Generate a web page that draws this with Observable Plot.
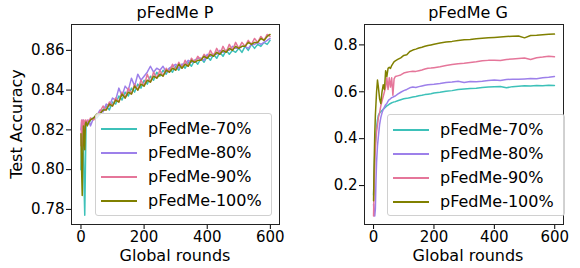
<!DOCTYPE html>
<html>
<head>
<meta charset="utf-8">
<script src="https://cdn.jsdelivr.net/npm/d3@7"></script>
<script src="https://cdn.jsdelivr.net/npm/@observablehq/plot@0.6"></script>
<style>
  body { margin: 0; background: #fff; font-family: "DejaVu Sans", sans-serif; }
  #wrap { position: relative; width: 580px; height: 268px; overflow: hidden; }
  .panel { position: absolute; top: 0; width: 290px; height: 268px; }
  .title { position: absolute; font-size: 16px; line-height: 18px; color: #000; white-space: nowrap; transform: translateX(-50%); }
  .xlabel { position: absolute; font-size: 16px; line-height: 16px; color: #000; white-space: nowrap; transform: translateX(-50%); }
  .ylabel { position: absolute; font-size: 16px; line-height: 16px; color: #000; white-space: nowrap; transform: translate(-50%, -50%) rotate(-90deg); }
  .legend { position: absolute; border: 1px solid #d0d0d0; border-radius: 3px; background: rgba(255,255,255,0.8); box-sizing: border-box; }
  .entry { position: absolute; left: 0; height: 0; }
  .entry svg { position: absolute; left: 5px; top: -2px; }
  .entry span { position: absolute; left: 52px; top: -10px; font-size: 16px; line-height: 20px; white-space: nowrap; color: #000; }
</style>
</head>
<body>
<div id="wrap"></div>
<script>
// ---------- data ----------
const seriesNames = ["pFedMe-70%", "pFedMe-80%", "pFedMe-90%", "pFedMe-100%"];
const seriesColors = ["#3dc1b9", "#9d80ea", "#e5769a", "#808000"];

const roundsP = [0,2,4,6,8,10,12,14,16,20,25,30,40,50,
  60,70,80,90,100,110,120,130,140,150,160,170,180,190,200,210,220,230,240,250,260,270,280,290,
  300,310,320,330,340,350,360,370,380,390,400,410,420,430,440,450,460,470,480,490,500,510,520,
  530,540,550,560,570,580,590,599];

const p70 = [0.800,0.815,0.822,0.818,0.812,0.790,0.777,0.800,0.822,0.824,0.823,0.825,0.826,0.826,
  0.828,0.830,0.832,0.830,0.834,0.833,0.837,0.835,0.839,0.837,0.841,0.839,0.843,0.841,0.845,0.843,
  0.847,0.845,0.849,0.847,0.850,0.848,0.851,0.849,0.852,0.850,0.853,0.851,0.854,0.852,0.855,0.853,
  0.856,0.854,0.857,0.855,0.858,0.856,0.859,0.857,0.860,0.858,0.860,0.859,0.861,0.859,0.862,0.860,
  0.863,0.861,0.863,0.862,0.864,0.863,0.865];
const p80 = [0.820,0.824,0.818,0.825,0.821,0.823,0.824,0.822,0.824,0.823,0.825,0.822,0.826,0.827,
  0.830,0.829,0.833,0.832,0.836,0.835,0.841,0.837,0.842,0.840,0.846,0.842,0.848,0.845,0.847,0.849,
  0.852,0.849,0.851,0.850,0.852,0.849,0.851,0.852,0.853,0.851,0.853,0.853,0.855,0.854,0.855,0.856,
  0.856,0.855,0.858,0.857,0.858,0.858,0.860,0.859,0.860,0.860,0.862,0.861,0.861,0.862,0.862,0.861,
  0.863,0.863,0.864,0.863,0.864,0.865,0.866];
const p90 = [0.812,0.825,0.810,0.824,0.825,0.820,0.824,0.825,0.823,0.825,0.824,0.826,0.825,0.827,
  0.829,0.832,0.830,0.834,0.832,0.836,0.834,0.839,0.836,0.841,0.838,0.843,0.840,0.845,0.842,0.848,
  0.844,0.849,0.846,0.850,0.847,0.851,0.849,0.853,0.850,0.854,0.851,0.855,0.852,0.856,0.854,0.857,
  0.855,0.858,0.856,0.860,0.857,0.861,0.858,0.862,0.859,0.863,0.860,0.864,0.861,0.864,0.862,0.865,
  0.863,0.866,0.864,0.867,0.865,0.868,0.867];
const p100 = [0.818,0.800,0.787,0.810,0.822,0.815,0.810,0.823,0.824,0.822,0.824,0.825,0.826,0.828,
  0.828,0.830,0.830,0.833,0.832,0.835,0.834,0.838,0.836,0.839,0.838,0.842,0.840,0.843,0.842,0.845,
  0.844,0.847,0.846,0.848,0.847,0.850,0.849,0.851,0.850,0.853,0.851,0.853,0.852,0.855,0.854,0.855,
  0.855,0.857,0.856,0.858,0.857,0.859,0.858,0.860,0.859,0.861,0.860,0.862,0.861,0.862,0.862,0.864,
  0.863,0.864,0.864,0.866,0.865,0.867,0.868];

const roundsG = [0,2,4,6,8,10,13,16,20,24,28,32,36,40,44,48,52,56,60,64,68,72,
  80,90,100,110,120,130,140,150,160,170,180,190,200,
  220,240,260,280,300,320,340,360,380,400,420,440,460,480,500,520,540,560,580,599];

const g70 = [0.16,0.25,0.33,0.38,0.42,0.45,0.48,0.50,0.51,0.515,0.52,0.525,0.53,0.535,0.54,0.543,0.547,0.55,0.553,0.555,0.557,0.558,
  0.562,0.566,0.570,0.572,0.575,0.578,0.580,0.583,0.585,0.588,0.590,0.592,0.595,
  0.598,0.602,0.605,0.610,0.612,0.614,0.615,0.618,0.620,0.622,0.623,0.617,0.622,0.624,0.626,0.625,0.627,0.626,0.628,0.627];
const g80 = [0.12,0.08,0.07,0.10,0.22,0.30,0.37,0.41,0.46,0.49,0.51,0.525,0.535,0.545,0.55,0.56,0.567,0.57,0.575,0.577,0.58,0.582,
  0.590,0.598,0.605,0.610,0.617,0.620,0.618,0.622,0.625,0.628,0.630,0.631,0.632,
  0.635,0.640,0.642,0.645,0.640,0.644,0.643,0.645,0.648,0.650,0.648,0.652,0.654,0.653,0.655,0.657,0.656,0.660,0.662,0.665];
const g90 = [0.07,0.20,0.30,0.36,0.40,0.43,0.46,0.49,0.51,0.54,0.56,0.58,0.60,0.62,0.66,0.61,0.66,0.62,0.66,0.585,0.655,0.665,
  0.668,0.672,0.680,0.683,0.686,0.688,0.687,0.690,0.693,0.697,0.700,0.701,0.703,
  0.707,0.712,0.716,0.720,0.722,0.725,0.728,0.732,0.734,0.735,0.733,0.738,0.740,0.742,0.744,0.738,0.745,0.748,0.752,0.749];
const g100 = [0.135,0.30,0.42,0.50,0.55,0.60,0.65,0.62,0.57,0.55,0.60,0.63,0.61,0.69,0.665,0.70,0.705,0.70,0.712,0.72,0.728,0.732,
  0.738,0.745,0.755,0.758,0.772,0.778,0.782,0.787,0.790,0.794,0.797,0.800,0.803,
  0.808,0.812,0.815,0.819,0.822,0.823,0.826,0.828,0.830,0.832,0.834,0.836,0.837,0.838,0.830,0.840,0.841,0.843,0.845,0.846];

const xTicks = [0, 200, 400, 600];
const yTicksP = [0.78, 0.80, 0.82, 0.84, 0.86];
const yTicksG = [0.2, 0.4, 0.6, 0.8];

// ---------- build ----------
function rows(rounds, valuesList) {
  const out = [];
  valuesList.forEach((vals, k) => {
    if (vals.length !== rounds.length) console.error("length mismatch", seriesNames[k], vals.length, rounds.length);
    rounds.forEach((r, i) => out.push({ round: r, acc: vals[i], series: seriesNames[k] }));
  });
  return out;
}

const dataP = rows(roundsP, [p70, p80, p90, p100]);
const dataG = rows(roundsG, [g70, g80, g90, g100]);

function makePlot(data, cfg) {
  return Plot.plot({
    width: 290,
    height: 268,
    marginLeft: cfg.ml,
    marginRight: cfg.mr,
    marginTop: 24,
    marginBottom: 44,
    style: { fontFamily: "DejaVu Sans, sans-serif", fontSize: "15px", color: "#000", background: "transparent", overflow: "visible" },
    x: { domain: [-30, 629] },
    y: { domain: cfg.ydomain },
    color: { domain: seriesNames, range: seriesColors },
    marks: [
      Plot.line(data, { x: "round", y: "acc", z: "series", stroke: "series", strokeWidth: 1.5, clip: true }),
      Plot.axisX({ ticks: xTicks, tickFormat: d3.format("d"), tickSize: 5, tickPadding: 2, label: null, fontSize: 15 }),
      Plot.axisY({ ticks: cfg.yticks, tickFormat: d3.format(cfg.yfmt), tickSize: 5, tickPadding: 2, label: null, fontSize: 15 }),
      Plot.frame({ stroke: "#222", strokeWidth: 1 })
    ]
  });
}

const wrap = document.getElementById("wrap");

function addPanel(left, plot, title, cx, ylabel, legendLeft, legendTop, legendW, legendH) {
  const panel = document.createElement("div");
  panel.className = "panel";
  panel.style.left = left + "px";
  panel.appendChild(plot);
  wrap.appendChild(panel);

  const t = document.createElement("div");
  t.className = "title";
  t.textContent = title;
  t.style.left = cx + "px";
  t.style.top = "4px";
  wrap.appendChild(t);

  const xl = document.createElement("div");
  xl.className = "xlabel";
  xl.textContent = "Global rounds";
  xl.style.left = cx + "px";
  xl.style.top = "248px";
  wrap.appendChild(xl);

  if (ylabel) {
    const yl = document.createElement("div");
    yl.className = "ylabel";
    yl.textContent = ylabel;
    yl.style.left = "17px";
    yl.style.top = "124px";
    wrap.appendChild(yl);
  }

  const lg = document.createElement("div");
  lg.className = "legend";
  lg.style.left = legendLeft + "px";
  lg.style.top = legendTop + "px";
  lg.style.width = legendW + "px";
  lg.style.height = legendH + "px";
  seriesNames.forEach((name, i) => {
    const e = document.createElement("div");
    e.className = "entry";
    e.style.top = (14.5 + i * 24) + "px";
    e.innerHTML = `<svg width="36" height="4"><line x1="0" x2="36" y1="2" y2="2" stroke="${seriesColors[i]}" stroke-width="2"/></svg><span>${name}</span>`;
    lg.appendChild(e);
  });
  wrap.appendChild(lg);
}

const plotP = makePlot(dataP, { ml: 71, mr: 11, ydomain: [0.7724, 0.873], yticks: yTicksP, yfmt: ".2f" });
const plotG = makePlot(dataG, { ml: 74, mr: 17, ydomain: [0.034, 0.887], yticks: yTicksG, yfmt: ".1f" });

addPanel(0, plotP, "pFedMe P", 175, "Test Accuracy", 95, 113, 177, 103);
addPanel(290, plotG, "pFedMe G", 468, null, 387, 114, 178, 102);
</script>
</body>
</html>
